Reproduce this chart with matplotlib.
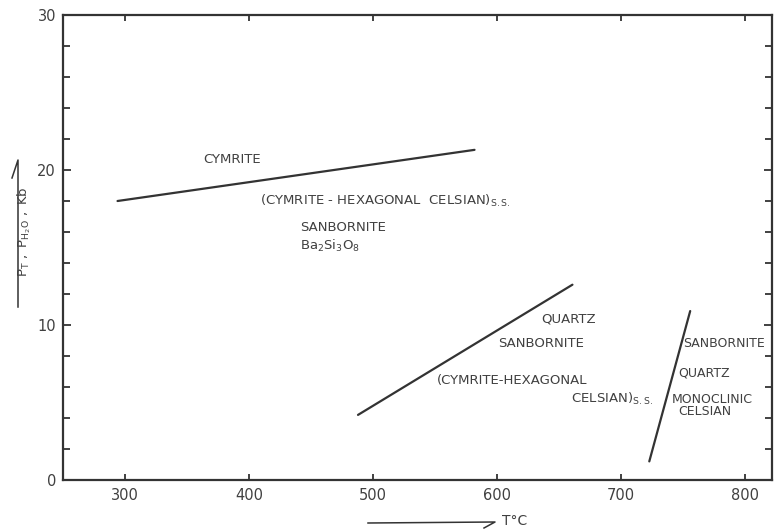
import matplotlib
matplotlib.use("Agg")
import matplotlib.pyplot as plt
from matplotlib.ticker import MultipleLocator

# ---- data (T in deg C, P in kb) ----
cymrite_T = [294, 582]
cymrite_P = [18.0, 21.3]
quartz_T = [488, 661]
quartz_P = [4.2, 12.6]
celsian_T = [723, 756]
celsian_P = [1.2, 10.9]

x_ticks = [300, 400, 500, 600, 700, 800]
y_ticks = [0, 10, 20, 30]

labels = [
    ("CYMRITE", 363, 20.7, 9.5),
    ("(CYMRITE - HEXAGONAL  CELSIAN)$_\\mathregular{S.S.}$", 409, 18.0, 9.5),
    ("SANBORNITE", 441, 16.3, 9.5),
    ("$\\mathregular{Ba_2Si_3O_8}$", 441, 15.1, 9.5),
    ("QUARTZ", 636, 10.4, 9.5),
    ("SANBORNITE", 601, 8.8, 9.5),
    ("(CYMRITE-HEXAGONAL", 552, 6.4, 9.5),
    ("CELSIAN)$_\\mathregular{S.S.}$", 660, 5.2, 9.5),
    ("SANBORNITE", 750, 8.8, 9.0),
    ("QUARTZ", 746, 6.9, 9.0),
    ("MONOCLINIC", 741, 5.2, 9.0),
    ("CELSIAN", 746, 4.4, 9.0),
]

ink = "#333333"
txt = "#404040"
plt.rcParams['font.family'] = ['DejaVu Sans']
plt.rcParams['mathtext.default'] = 'regular'

fig = plt.figure(figsize=(7.74, 5.29), dpi=100)
ax = fig.add_axes([63/774, 49/529, (772-63)/774, (480-15)/529])

for T, P in [(cymrite_T, cymrite_P), (quartz_T, quartz_P), (celsian_T, celsian_P)]:
    ax.plot(T, P, color=ink, lw=1.6, solid_capstyle='round')

for s, x, y, fs in labels:
    ax.text(x, y, s, fontsize=fs, color=txt, ha='left', va='center')

ax.set_xlim(250, 822)
ax.set_ylim(0, 30)
ax.set_xticks(x_ticks)
ax.set_yticks(y_ticks)
ax.yaxis.set_minor_locator(MultipleLocator(2))
ax.tick_params(axis='both', which='both', direction='in', colors=ink,
               labelcolor=txt, labelsize=10.5, width=1.3)
ax.tick_params(axis='x', which='major', length=4, top=True, pad=6)
ax.tick_params(axis='y', which='major', length=6, right=True, pad=5)
ax.tick_params(axis='y', which='minor', length=5, right=True)
for sp in ax.spines.values():
    sp.set_color(ink)
    sp.set_linewidth(1.6)

# axis labels with half-arrow lines (figure pixel coords)
W, H = 774, 529
def fx(px):
    return px / W
def fy(py):
    return 1 - py / H

fig.text(fx(24), fy(232), "$\\mathregular{P_T\\ ,\\ P_{H_2O}\\ ,\\ Kb}$", rotation=90,
         fontsize=9.5, color=txt, ha='center', va='center')
fig.add_artist(plt.Line2D([fx(18), fx(18), fx(12)], [fy(307), fy(160), fy(178)],
                          color=ink, lw=1.1))
fig.text(fx(502), fy(521), "T°C", fontsize=10, color=txt, ha='left', va='center')
fig.add_artist(plt.Line2D([fx(368), fx(495), fx(484)], [fy(523), fy(522), fy(528)],
                          color=ink, lw=1.1))

fig.savefig("out.png", dpi=100)
